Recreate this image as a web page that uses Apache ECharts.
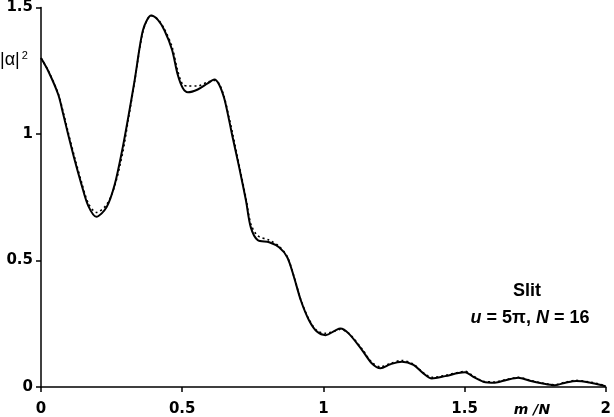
<!DOCTYPE html>
<html>
<head>
<meta charset="UTF-8">
<title>Slit</title>
<style>
  html, body { margin: 0; padding: 0; background: #fff; }
  #main { width: 614px; height: 417px; }
</style>
</head>
<body>
<div id="main"></div>
<script src="https://cdn.jsdelivr.net/npm/echarts@6/dist/echarts.min.js"></script>
<script>
// m/N positions
var xs = [0, 0.026, 0.061, 0.079, 0.096, 0.12, 0.143, 0.167, 0.196, 0.232, 0.261, 0.29, 0.308, 0.332, 0.349, 0.361, 0.375, 0.39, 0.414, 0.437, 0.464, 0.484, 0.502, 0.52, 0.555, 0.59, 0.614, 0.631, 0.649, 0.667, 0.678, 0.702, 0.726, 0.743, 0.767, 0.808, 0.843, 0.872, 0.896, 0.92, 0.949, 0.978, 1.008, 1.043, 1.06, 1.09, 1.137, 1.172, 1.202, 1.237, 1.278, 1.319, 1.354, 1.384, 1.431, 1.478, 1.502, 1.531, 1.566, 1.607, 1.648, 1.69, 1.731, 1.772, 1.819, 1.86, 1.896, 1.942, 1.983, 2.0];
// |alpha|^2, solid curve
var solid = [1.30, 1.248, 1.156, 1.077, 0.999, 0.894, 0.802, 0.717, 0.673, 0.71, 0.80, 0.95, 1.06, 1.215, 1.34, 1.41, 1.45, 1.468, 1.451, 1.41, 1.333, 1.235, 1.182, 1.165, 1.176, 1.20, 1.215, 1.195, 1.14, 1.05, 0.99, 0.867, 0.736, 0.631, 0.581, 0.572, 0.552, 0.513, 0.434, 0.343, 0.264, 0.218, 0.205, 0.224, 0.231, 0.211, 0.146, 0.093, 0.074, 0.09, 0.10, 0.087, 0.054, 0.034, 0.043, 0.055, 0.058, 0.04, 0.021, 0.017, 0.028, 0.037, 0.025, 0.015, 0.007, 0.018, 0.024, 0.018, 0.008, 0.002];
// dotted curve
var dotted = [1.30, 1.25, 1.16, 1.085, 1.008, 0.904, 0.812, 0.728, 0.69, 0.72, 0.795, 0.93, 1.05, 1.21, 1.335, 1.405, 1.448, 1.468, 1.453, 1.415, 1.345, 1.25, 1.195, 1.19, 1.19, 1.205, 1.212, 1.198, 1.145, 1.06, 1.005, 0.875, 0.745, 0.645, 0.598, 0.58, 0.556, 0.515, 0.436, 0.345, 0.267, 0.222, 0.212, 0.222, 0.228, 0.212, 0.15, 0.097, 0.08, 0.093, 0.105, 0.09, 0.056, 0.038, 0.046, 0.058, 0.062, 0.043, 0.023, 0.02, 0.03, 0.038, 0.027, 0.016, 0.009, 0.02, 0.026, 0.02, 0.01, 0.003];
var xTicks = [0, 0.5, 1, 1.5, 2];
var yTicks = [0, 0.5, 1, 1.5];

function pairs(ys) {
  return xs.map(function (x, i) { return [x, ys[i]]; });
}

var tickFont = { color: '#000', fontFamily: 'DejaVu Sans', fontWeight: 'bold', fontSize: 15 };

var myChart = echarts.init(document.getElementById('main'));
myChart.setOption({
  animation: false,
  grid: { left: 41, right: 6, top: 6, bottom: 30 },
  xAxis: {
    type: 'value', min: xTicks[0], max: xTicks[xTicks.length - 1], interval: 0.5,
    axisLine: { lineStyle: { color: '#000', width: 1.5 } },
    axisTick: { length: 5, lineStyle: { color: '#000', width: 1.5 } },
    axisLabel: Object.assign({ margin: 15 }, tickFont),
    splitLine: { show: false }
  },
  yAxis: {
    type: 'value', min: yTicks[0], max: yTicks[yTicks.length - 1], interval: 0.5,
    axisLine: { show: true, lineStyle: { color: '#000', width: 1.5 } },
    axisTick: { show: true, length: 5, lineStyle: { color: '#000', width: 1.5 } },
    axisLabel: Object.assign({ margin: 8 }, tickFont),
    splitLine: { show: false }
  },
  series: [
    {
      type: 'line', data: pairs(dotted), showSymbol: false, smooth: 0.3, z: 2,
      lineStyle: { color: '#000', width: 1.6, type: [2, 3] }
    },
    {
      type: 'line', data: pairs(solid), showSymbol: false, smooth: 0.3, z: 3,
      lineStyle: { color: '#000', width: 2 }
    }
  ],
  graphic: [
    {
      type: 'text', left: 0, top: 50,
      style: {
        text: '|α|{s|2}', fill: '#000', font: '18px "Liberation Sans"', lineHeight: 20,
        rich: { s: { fontSize: 11, fontFamily: 'Liberation Sans', verticalAlign: 'top', lineHeight: 20, padding: [0, 0, 8, 2] } }
      }
    },
    {
      type: 'text', x: 532, y: 410,
      style: { text: 'm /N', fill: '#000', font: 'italic bold 14px "DejaVu Sans"', align: 'center', verticalAlign: 'middle' }
    },
    {
      type: 'text', x: 527, y: 291,
      style: { text: 'Slit', fill: '#000', font: 'bold 18px "Liberation Sans"', align: 'center', verticalAlign: 'middle' }
    },
    {
      type: 'text', x: 530, y: 318,
      style: {
        text: '{i|u} = 5π, {i|N} = 16', fill: '#000', font: 'bold 18px "Liberation Sans"',
        align: 'center', verticalAlign: 'middle',
        rich: { i: { fontStyle: 'italic', fontWeight: 'bold', fontSize: 18, fontFamily: 'Liberation Sans' } }
      }
    }
  ]
});
</script>
</body>
</html>
